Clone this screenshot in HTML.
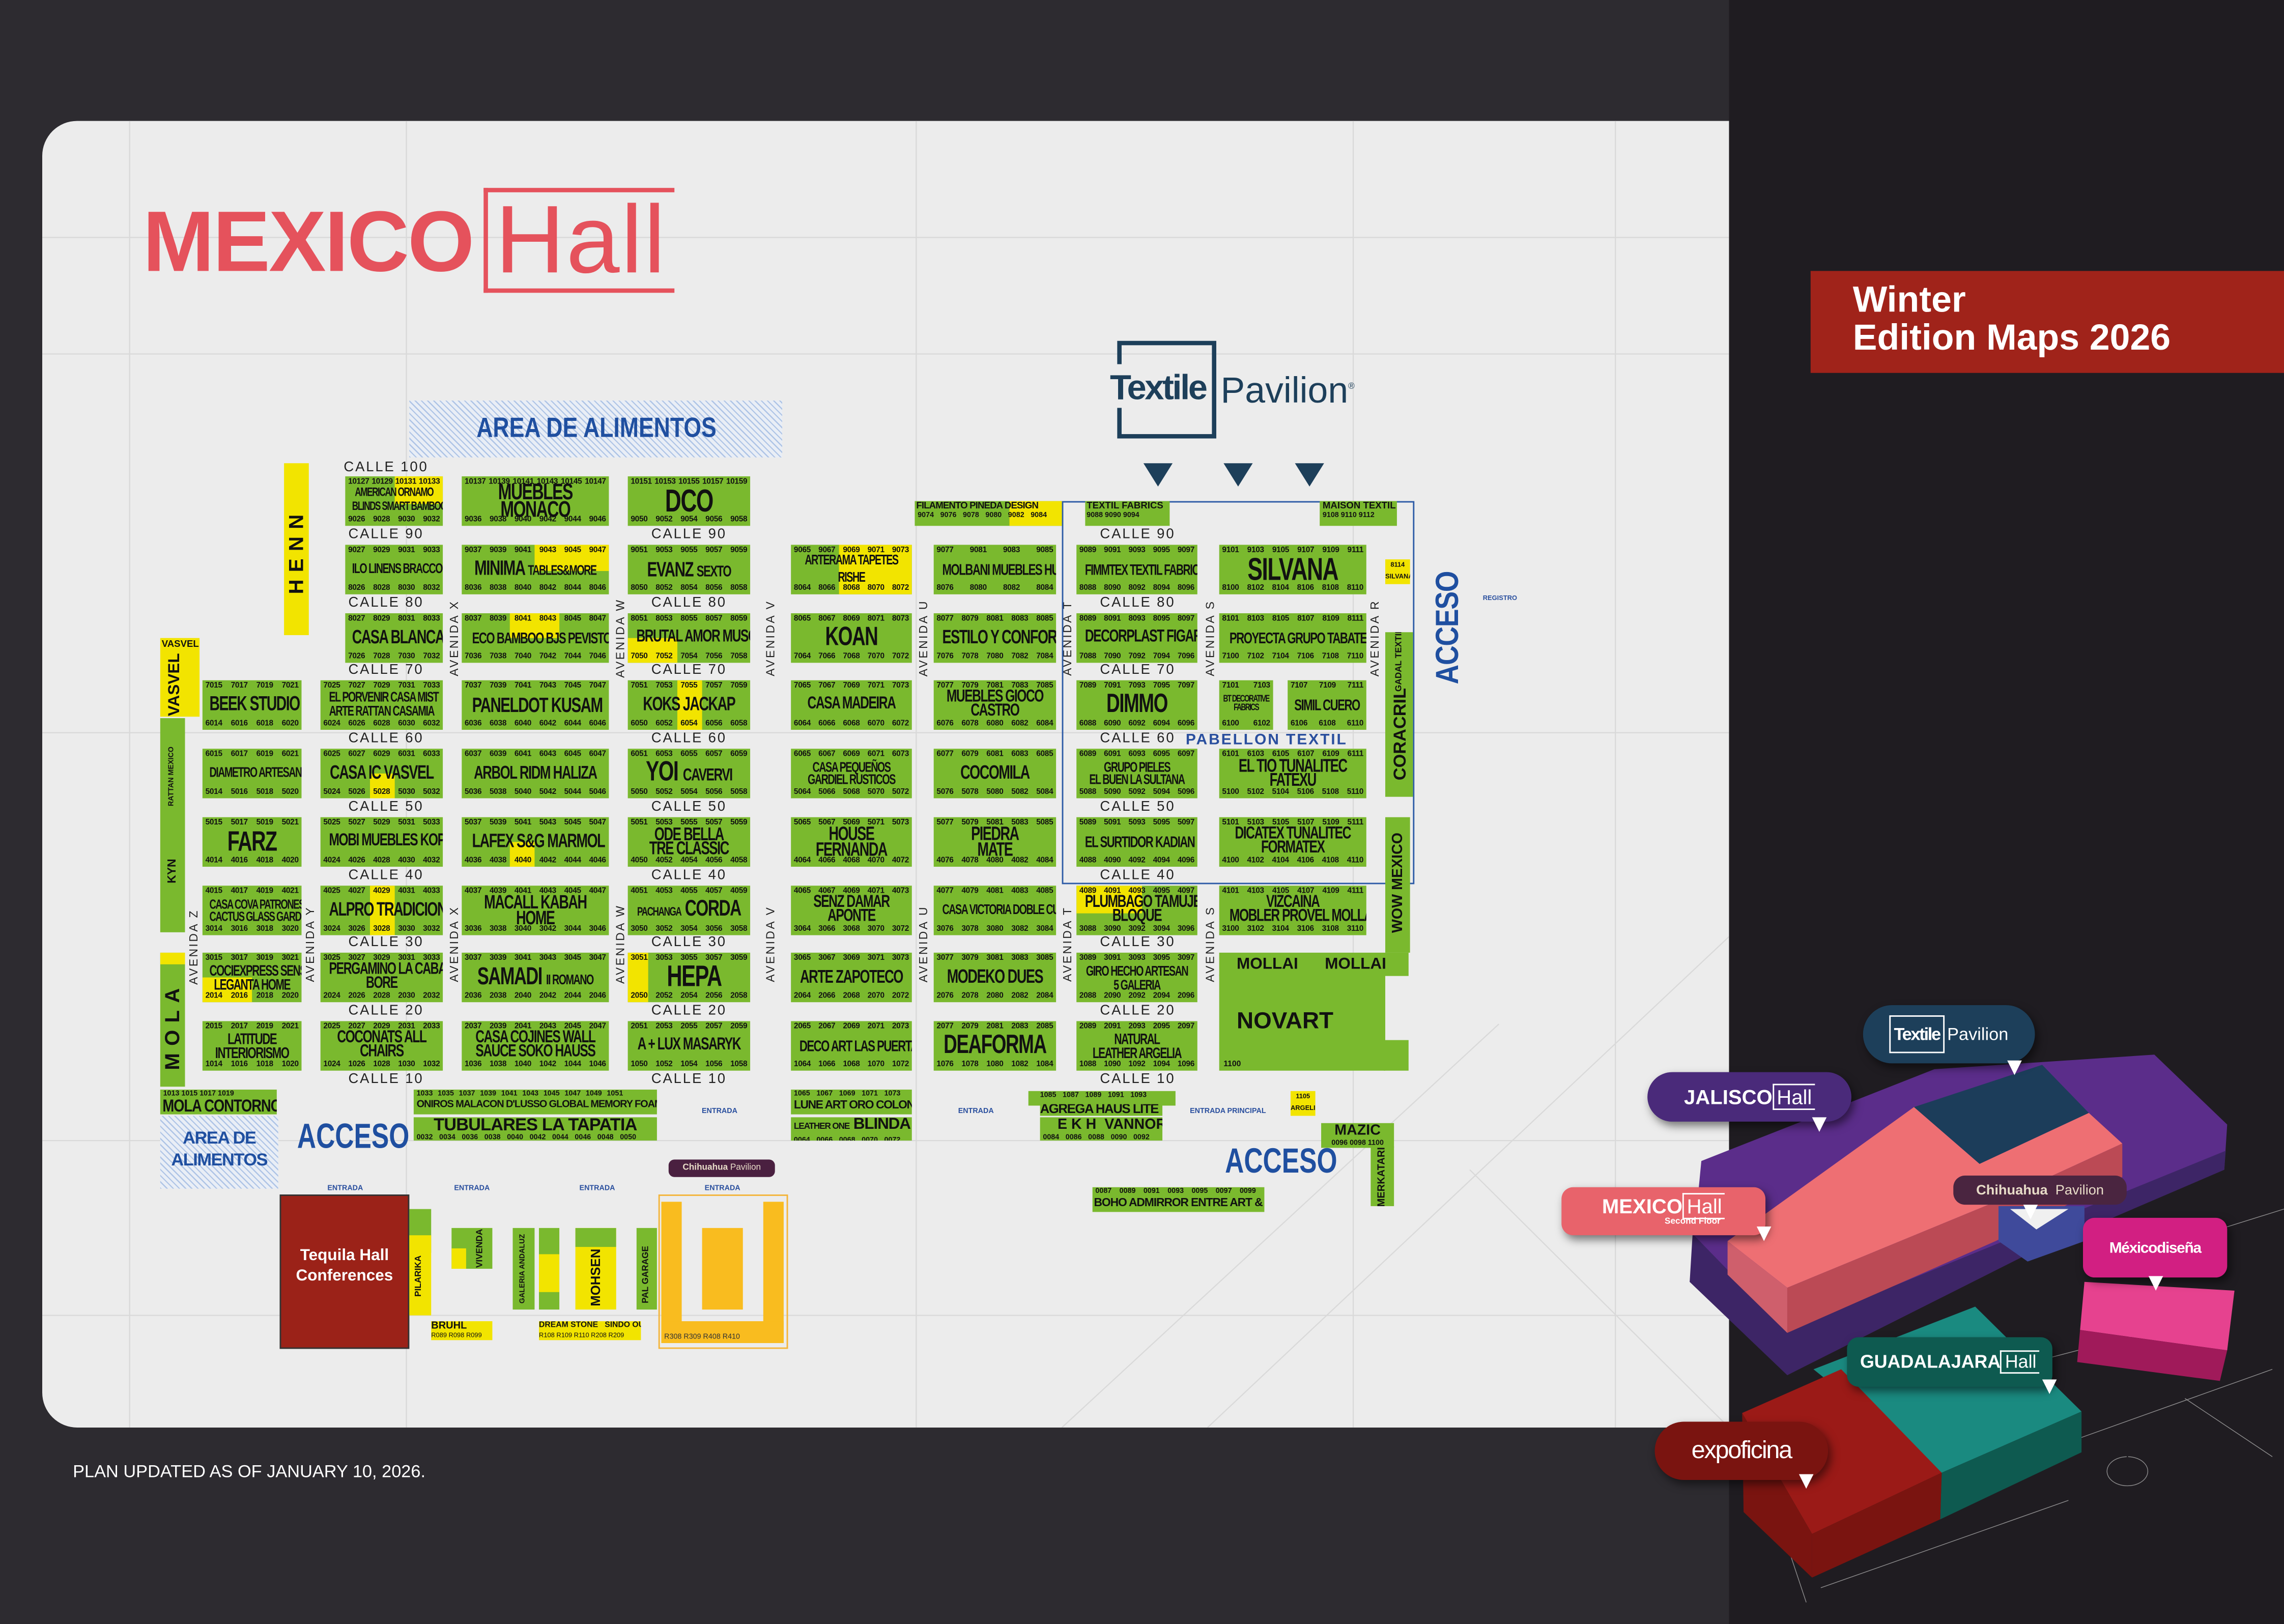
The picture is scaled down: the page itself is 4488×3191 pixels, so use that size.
<!DOCTYPE html>
<html><head><meta charset="utf-8"><style>
*{margin:0;padding:0;box-sizing:border-box}
html,body{width:4488px;height:3189px;overflow:hidden;background:#2c2a2f}
#s{position:absolute;left:0;top:0;width:1568px;height:1114.2px;transform:scale(2.86224);transform-origin:0 0;font-family:"Liberation Sans",sans-serif;background:#2d2b30}
.a{position:absolute}
.b{position:absolute;height:34px;background:#7ab92e;color:#111;font-weight:bold;overflow:hidden;display:flex;flex-direction:column;justify-content:space-between}
.b .n{position:relative;font-size:5.4px;line-height:6px;padding:1px 2px 0;text-align:justify;text-align-last:justify;white-space:nowrap;letter-spacing:-0.1px}
.b .n+.m+.n{padding:0 2px 1px}
.b .m{position:relative;font-size:11px;line-height:10px;text-align:center;white-space:nowrap;letter-spacing:-0.6px;transform:scale(.86,1.2)}
.y{position:absolute;background:#f2e400}
.c{position:absolute;font-size:9.6px;letter-spacing:1px;color:#222;transform:translate(-50%,-50%);white-space:nowrap}
.v{position:absolute;font-size:8px;letter-spacing:1.2px;color:#222;transform:translate(-50%,-50%) rotate(-90deg);white-space:nowrap}
.g{position:absolute;background:#7ab92e;overflow:hidden;font-weight:bold;color:#111;white-space:nowrap}
.yl{position:absolute;background:#f2e400;overflow:hidden;font-weight:bold;color:#111;white-space:nowrap}
.en{position:absolute;font-size:5px;font-weight:bold;color:#2a4f9e;transform:translate(-50%,-50%);white-space:nowrap}
.tri{position:absolute;width:0;height:0;border-left:10px solid transparent;border-right:10px solid transparent;border-top:16px solid #1d3f5a}
.wt{position:absolute;width:0;height:0;border-left:5px solid transparent;border-right:5px solid transparent;border-top:10px solid #fff}
.pill{position:absolute;color:#fff;font-weight:bold;display:flex;align-items:center;justify-content:center;white-space:nowrap;box-shadow:2px 3px 6px rgba(0,0,0,.5)}
.hatch{background:repeating-linear-gradient(45deg,#aec4e6 0 0.8px,#e9eef6 0.8px 3px)}
.rt{position:absolute;transform:translate(-50%,-50%) rotate(-90deg);white-space:nowrap;font-weight:bold}
</style></head><body><div id="s">

<div class="a" style="left:1187px;top:0;width:381px;height:1115px;background:#1f1c21"></div>
<div class="a" style="left:29px;top:83px;width:1158px;height:897px;background:#ececec;border-radius:24px 0 0 24px"></div>
<svg class="a" style="left:29px;top:83px" width="1158" height="897" viewBox="0 0 1158 897">
<g stroke="#d9d9d9" stroke-width="0.8" fill="none">
<path d="M0 80H1158M0 160H1158M0 420H1158M0 700H1158M0 820H1158M60 0V897M250 0V897M600 0V897M900 0V897M1080 0V897"/>
<path d="M700 897L1000 620M800 897L1158 560M980 720L1158 897"/>
</g></svg>

<div class="a" style="left:98px;top:131px;font-size:59px;font-weight:bold;color:#e5525c;letter-spacing:-1px;line-height:70px">MEXICO</div>
<div class="a" style="left:332px;top:128.5px;width:131px;height:72px;border:3.5px solid #e5525c;border-right:none"></div>
<div class="a" style="left:340px;top:124px;font-size:66px;color:#e5525c;line-height:80px;letter-spacing:1px">Hall</div>

<div class="a" style="left:767px;top:234px;width:68px;height:67px;border:3.7px solid #1d3f5a"></div>
<div class="a" style="left:760px;top:250px;width:12px;height:30px;background:#ececec"></div>
<div class="a" style="left:762px;top:253px;font-size:24px;font-weight:bold;color:#1d3f5a;letter-spacing:-1.2px;line-height:28px">Textile</div>
<div class="a" style="left:838px;top:252px;font-size:25px;color:#1d3f5a;line-height:28px">Pavilion<sup style="font-size:6px">®</sup></div>
<div class="tri" style="left:785px;top:318px"></div>
<div class="tri" style="left:840px;top:318px"></div>
<div class="tri" style="left:889px;top:318px"></div>

<div class="a hatch" style="left:281px;top:275px;width:256px;height:39px"></div>
<div class="a" style="left:281px;top:284px;width:256px;text-align:center;font-size:19px;font-weight:bold;color:#1f4fa0;line-height:22px"><span style="display:inline-block;transform:scaleX(.82)">AREA DE ALIMENTOS</span></div>

<div class="a" style="left:1243px;top:186px;width:325px;height:70px;background:#a0231a"></div>
<div class="a" style="left:1272px;top:193px;font-size:25px;font-weight:bold;color:#fff;line-height:26px">Winter<br>Edition Maps 2026</div>

<div class="a" style="left:50px;top:1003px;font-size:12px;color:#fff;line-height:14px">PLAN UPDATED AS OF JANUARY 10, 2026.</div>

<div class="c" style="left:265px;top:321px">CALLE 100</div>
<div class="c" style="left:265px;top:367px">CALLE 90</div><div class="c" style="left:473px;top:367px">CALLE 90</div><div class="c" style="left:781px;top:367px">CALLE 90</div>
<div class="c" style="left:265px;top:414px">CALLE 80</div><div class="c" style="left:473px;top:414px">CALLE 80</div><div class="c" style="left:781px;top:414px">CALLE 80</div>
<div class="c" style="left:265px;top:460px">CALLE 70</div><div class="c" style="left:473px;top:460px">CALLE 70</div><div class="c" style="left:781px;top:460px">CALLE 70</div>
<div class="c" style="left:265px;top:507px">CALLE 60</div><div class="c" style="left:473px;top:507px">CALLE 60</div><div class="c" style="left:781px;top:507px">CALLE 60</div>
<div class="c" style="left:265px;top:554px">CALLE 50</div><div class="c" style="left:473px;top:554px">CALLE 50</div><div class="c" style="left:781px;top:554px">CALLE 50</div>
<div class="c" style="left:265px;top:601px">CALLE 40</div><div class="c" style="left:473px;top:601px">CALLE 40</div><div class="c" style="left:781px;top:601px">CALLE 40</div>
<div class="c" style="left:265px;top:647px">CALLE 30</div><div class="c" style="left:473px;top:647px">CALLE 30</div><div class="c" style="left:781px;top:647px">CALLE 30</div>
<div class="c" style="left:265px;top:694px">CALLE 20</div><div class="c" style="left:473px;top:694px">CALLE 20</div><div class="c" style="left:781px;top:694px">CALLE 20</div>
<div class="c" style="left:265px;top:741px">CALLE 10</div><div class="c" style="left:473px;top:741px">CALLE 10</div><div class="c" style="left:781px;top:741px">CALLE 10</div>

<div class="v" style="left:312px;top:438px">AVENIDA X</div><div class="v" style="left:426px;top:438px">AVENIDA W</div><div class="v" style="left:529px;top:438px">AVENIDA V</div><div class="v" style="left:634px;top:438px">AVENIDA U</div><div class="v" style="left:733px;top:438px">AVENIDA T</div><div class="v" style="left:831px;top:438px">AVENIDA S</div><div class="v" style="left:944px;top:438px">AVENIDA R</div>
<div class="v" style="left:133px;top:650px">AVENIDA Z</div><div class="v" style="left:213px;top:648px">AVENIDA Y</div><div class="v" style="left:312px;top:648px">AVENIDA X</div><div class="v" style="left:426px;top:648px">AVENIDA W</div><div class="v" style="left:529px;top:648px">AVENIDA V</div><div class="v" style="left:634px;top:648px">AVENIDA U</div><div class="v" style="left:733px;top:648px">AVENIDA T</div><div class="v" style="left:831px;top:648px">AVENIDA S</div>

<div class="a" style="left:729px;top:344px;width:242px;height:263px;border:1.5px solid #2d5ba6"></div>
<div class="a" style="left:814px;top:502px;font-size:10.5px;font-weight:bold;color:#2a4f9e;letter-spacing:1px;line-height:12px">PABELLON TEXTIL</div>

<!-- ROW 100 -->
<div class="b" style="left:237px;top:327px;width:67px"><div class="y" style="left:34px;top:0;width:33px;height:19px"></div><div class="n">10127 10129 10131 10133</div><div class="m" style="font-size:7px;line-height:8px">AMERICAN ORNAMO<br>BLINDS SMART BAMBOO</div><div class="n">9026 9028 9030 9032</div></div>
<div class="b" style="left:317px;top:327px;width:101px"><div class="n">10137 10139 10141 10143 10145 10147</div><div class="m" style="font-size:13px;line-height:10px">MUEBLES<br>MONACO</div><div class="n">9036 9038 9040 9042 9044 9046</div></div>
<div class="b" style="left:431px;top:327px;width:84px"><div class="n">10151 10153 10155 10157 10159</div><div class="m" style="font-size:18px;line-height:15px">DCO</div><div class="n">9050 9052 9054 9056 9058</div></div>

<!-- ROW 90 -->
<div class="b" style="left:237px;top:374px;width:67px"><div class="n">9027 9029 9031 9033</div><div class="m" style="font-size:8px">ILO LINENS BRACCO</div><div class="n">8026 8028 8030 8032</div></div>
<div class="b" style="left:317px;top:374px;width:101px"><div class="y" style="left:50px;top:0;width:51px;height:18px"></div><div class="n">9037 9039 9041 9043 9045 9047</div><div class="m" style="font-size:12px">MINIMA <span style="font-size:8px">TABLES&amp;MORE</span></div><div class="n">8036 8038 8040 8042 8044 8046</div></div>
<div class="b" style="left:431px;top:374px;width:84px"><div class="n">9051 9053 9055 9057 9059</div><div class="m" style="font-size:12px">EVANZ <span style="font-size:9px">SEXTO</span></div><div class="n">8050 8052 8054 8056 8058</div></div>
<div class="b" style="left:543px;top:374px;width:83px"><div class="y" style="left:33px;top:0;width:50px;height:34px"></div><div class="n">9065 9067 9069 9071 9073</div><div class="m" style="font-size:8px">ARTERAMA TAPETES<br>RISHE</div><div class="n">8064 8066 8068 8070 8072</div></div>
<div class="b" style="left:641px;top:374px;width:84px"><div class="n">9077 9081 9083 9085</div><div class="m" style="font-size:9px">MOLBANI MUEBLES HUIZAR</div><div class="n">8076 8080 8082 8084</div></div>
<div class="b" style="left:739px;top:374px;width:83px"><div class="n">9089 9091 9093 9095 9097</div><div class="m" style="font-size:8.5px">FIMMTEX TEXTIL FABRICS</div><div class="n">8088 8090 8092 8094 8096</div></div>
<div class="b" style="left:837px;top:374px;width:101px"><div class="n">9101 9103 9105 9107 9109 9111</div><div class="m" style="font-size:18px;line-height:14px">SILVANA</div><div class="n">8100 8102 8104 8106 8108 8110</div></div>

<!-- ROW 80 -->
<div class="b" style="left:237px;top:421px;width:67px"><div class="n">8027 8029 8031 8033</div><div class="m" style="font-size:11px">CASA BLANCA</div><div class="n">7026 7028 7030 7032</div></div>
<div class="b" style="left:317px;top:421px;width:101px"><div class="y" style="left:33px;top:0;width:34px;height:17px"></div><div class="n">8037 8039 8041 8043 8045 8047</div><div class="m" style="font-size:9px">ECO BAMBOO BJS PEVISTONE</div><div class="n">7036 7038 7040 7042 7044 7046</div></div>
<div class="b" style="left:431px;top:421px;width:84px"><div class="y" style="left:0;top:17px;width:34px;height:17px"></div><div class="n">8051 8053 8055 8057 8059</div><div class="m" style="font-size:10px">BRUTAL AMOR MUSOL</div><div class="n">7050 7052 7054 7056 7058</div></div>
<div class="b" style="left:543px;top:421px;width:83px"><div class="n">8065 8067 8069 8071 8073</div><div class="m" style="font-size:15px">KOAN</div><div class="n">7064 7066 7068 7070 7072</div></div>
<div class="b" style="left:641px;top:421px;width:84px"><div class="n">8077 8079 8081 8083 8085</div><div class="m" style="font-size:11px">ESTILO Y CONFORT</div><div class="n">7076 7078 7080 7082 7084</div></div>
<div class="b" style="left:739px;top:421px;width:83px"><div class="n">8089 8091 8093 8095 8097</div><div class="m" style="font-size:10px">DECORPLAST FIGAR</div><div class="n">7088 7090 7092 7094 7096</div></div>
<div class="b" style="left:837px;top:421px;width:101px"><div class="n">8101 8103 8105 8107 8109 8111</div><div class="m" style="font-size:9px">PROYECTA GRUPO TABATEX</div><div class="n">7100 7102 7104 7106 7108 7110</div></div>

<!-- ROW 70 -->
<div class="b" style="left:139px;top:467px;width:68px"><div class="n">7015 7017 7019 7021</div><div class="m" style="font-size:11.5px">BEEK STUDIO</div><div class="n">6014 6016 6018 6020</div></div>
<div class="b" style="left:220px;top:467px;width:84px"><div class="n">7025 7027 7029 7031 7033</div><div class="m" style="font-size:8px;line-height:8px">EL PORVENIR CASA MIST<br>ARTE RATTAN CASAMIA</div><div class="n">6024 6026 6028 6030 6032</div></div>
<div class="b" style="left:317px;top:467px;width:101px"><div class="n">7037 7039 7041 7043 7045 7047</div><div class="m" style="font-size:12px">PANELDOT KUSAM</div><div class="n">6036 6038 6040 6042 6044 6046</div></div>
<div class="b" style="left:431px;top:467px;width:84px"><div class="y" style="left:34px;top:0;width:17px;height:34px"></div><div class="n">7051 7053 7055 7057 7059</div><div class="m" style="font-size:11px">KOKS JACKAP</div><div class="n">6050 6052 6054 6056 6058</div></div>
<div class="b" style="left:543px;top:467px;width:83px"><div class="n">7065 7067 7069 7071 7073</div><div class="m" style="font-size:10px">CASA MADEIRA</div><div class="n">6064 6066 6068 6070 6072</div></div>
<div class="b" style="left:641px;top:467px;width:84px"><div class="n">7077 7079 7081 7083 7085</div><div class="m" style="font-size:10px;line-height:8px">MUEBLES GIOCO<br>CASTRO</div><div class="n">6076 6078 6080 6082 6084</div></div>
<div class="b" style="left:739px;top:467px;width:83px"><div class="n">7089 7091 7093 7095 7097</div><div class="m" style="font-size:15px">DIMMO</div><div class="n">6088 6090 6092 6094 6096</div></div>
<div class="b" style="left:837px;top:467px;width:37px"><div class="n">7101 7103</div><div class="m" style="font-size:5.5px;line-height:5px">BT DECORATIVE<br>FABRICS</div><div class="n">6100 6102</div></div>
<div class="b" style="left:884px;top:467px;width:54px"><div class="n">7107 7109 7111</div><div class="m" style="font-size:9px">SIMIL CUERO</div><div class="n">6106 6108 6110</div></div>

<!-- ROW 60 -->
<div class="b" style="left:139px;top:514px;width:68px"><div class="n">6015 6017 6019 6021</div><div class="m" style="font-size:8px">DIAMETRO ARTESANOZ</div><div class="n">5014 5016 5018 5020</div></div>
<div class="b" style="left:220px;top:514px;width:84px"><div class="y" style="left:34px;top:17px;width:17px;height:17px"></div><div class="n">6025 6027 6029 6031 6033</div><div class="m" style="font-size:11px">CASA IC VASVEL</div><div class="n">5024 5026 5028 5030 5032</div></div>
<div class="b" style="left:317px;top:514px;width:101px"><div class="n">6037 6039 6041 6043 6045 6047</div><div class="m" style="font-size:10.5px">ARBOL RIDM HALIZA</div><div class="n">5036 5038 5040 5042 5044 5046</div></div>
<div class="b" style="left:431px;top:514px;width:84px"><div class="n">6051 6053 6055 6057 6059</div><div class="m" style="font-size:16px;line-height:13px">YOI <span style="font-size:10px">CAVERVI</span></div><div class="n">5050 5052 5054 5056 5058</div></div>
<div class="b" style="left:543px;top:514px;width:83px"><div class="n">6065 6067 6069 6071 6073</div><div class="m" style="font-size:8px;line-height:7px">CASA PEQUEÑOS<br>GARDIEL RUSTICOS</div><div class="n">5064 5066 5068 5070 5072</div></div>
<div class="b" style="left:641px;top:514px;width:84px"><div class="n">6077 6079 6081 6083 6085</div><div class="m" style="font-size:11px">COCOMILA</div><div class="n">5076 5078 5080 5082 5084</div></div>
<div class="b" style="left:739px;top:514px;width:83px"><div class="n">6089 6091 6093 6095 6097</div><div class="m" style="font-size:8px;line-height:7px">GRUPO PIELES<br>EL BUEN LA SULTANA</div><div class="n">5088 5090 5092 5094 5096</div></div>
<div class="b" style="left:837px;top:514px;width:101px"><div class="n">6101 6103 6105 6107 6109 6111</div><div class="m" style="font-size:10.5px;line-height:8px">EL TIO TUNALITEC<br>FATEXU</div><div class="n">5100 5102 5104 5106 5108 5110</div></div>

<!-- ROW 50 -->
<div class="b" style="left:139px;top:561px;width:68px"><div class="n">5015 5017 5019 5021</div><div class="m" style="font-size:16px;line-height:13px">FARZ</div><div class="n">4014 4016 4018 4020</div></div>
<div class="b" style="left:220px;top:561px;width:84px"><div class="n">5025 5027 5029 5031 5033</div><div class="m" style="font-size:10px">MOBI MUEBLES KOPAL</div><div class="n">4024 4026 4028 4030 4032</div></div>
<div class="b" style="left:317px;top:561px;width:101px"><div class="y" style="left:33px;top:17px;width:17px;height:17px"></div><div class="n">5037 5039 5041 5043 5045 5047</div><div class="m" style="font-size:11px">LAFEX S&amp;G MARMOL</div><div class="n">4036 4038 4040 4042 4044 4046</div></div>
<div class="b" style="left:431px;top:561px;width:84px"><div class="n">5051 5053 5055 5057 5059</div><div class="m" style="font-size:10.5px;line-height:8px">ODE BELLA<br>TRE CLASSIC</div><div class="n">4050 4052 4054 4056 4058</div></div>
<div class="b" style="left:543px;top:561px;width:83px"><div class="n">5065 5067 5069 5071 5073</div><div class="m" style="font-size:11px;line-height:8.5px">HOUSE<br>FERNANDA</div><div class="n">4064 4066 4068 4070 4072</div></div>
<div class="b" style="left:641px;top:561px;width:84px"><div class="n">5077 5079 5081 5083 5085</div><div class="m" style="font-size:11px;line-height:8.5px">PIEDRA<br>MATE</div><div class="n">4076 4078 4080 4082 4084</div></div>
<div class="b" style="left:739px;top:561px;width:83px"><div class="n">5089 5091 5093 5095 5097</div><div class="m" style="font-size:9px">EL SURTIDOR KADIAN</div><div class="n">4088 4090 4092 4094 4096</div></div>
<div class="b" style="left:837px;top:561px;width:101px"><div class="n">5101 5103 5105 5107 5109 5111</div><div class="m" style="font-size:10px;line-height:8px">DICATEX TUNALITEC<br>FORMATEX</div><div class="n">4100 4102 4104 4106 4108 4110</div></div>

<!-- ROW 40 -->
<div class="b" style="left:139px;top:608px;width:68px"><div class="n">4015 4017 4019 4021</div><div class="m" style="font-size:7.5px;line-height:7px">CASA COVA PATRONES<br>CACTUS GLASS GARDEN</div><div class="n">3014 3016 3018 3020</div></div>
<div class="b" style="left:220px;top:608px;width:84px"><div class="y" style="left:34px;top:0;width:17px;height:34px"></div><div class="n">4025 4027 4029 4031 4033</div><div class="m" style="font-size:11px">ALPRO TRADICIONES</div><div class="n">3024 3026 3028 3030 3032</div></div>
<div class="b" style="left:317px;top:608px;width:101px"><div class="n">4037 4039 4041 4043 4045 4047</div><div class="m" style="font-size:11px;line-height:8.5px">MACALL KABAH<br>HOME</div><div class="n">3036 3038 3040 3042 3044 3046</div></div>
<div class="b" style="left:431px;top:608px;width:84px"><div class="n">4051 4053 4055 4057 4059</div><div class="m" style="font-size:13px"><span style="font-size:7px">PACHANGA</span> CORDA</div><div class="n">3050 3052 3054 3056 3058</div></div>
<div class="b" style="left:543px;top:608px;width:83px"><div class="n">4065 4067 4069 4071 4073</div><div class="m" style="font-size:10px;line-height:8px">SENZ DAMAR<br>APONTE</div><div class="n">3064 3066 3068 3070 3072</div></div>
<div class="b" style="left:641px;top:608px;width:84px"><div class="n">4077 4079 4081 4083 4085</div><div class="m" style="font-size:8px">CASA VICTORIA DOBLE CUADRO</div><div class="n">3076 3078 3080 3082 3084</div></div>
<div class="b" style="left:739px;top:608px;width:83px"><div class="y" style="left:0;top:0;width:45px;height:19px"></div><div class="n">4089 4091 4093 4095 4097</div><div class="m" style="font-size:10px;line-height:8px">PLUMBAGO TAMUJE<br>BLOQUE</div><div class="n">3088 3090 3092 3094 3096</div></div>
<div class="b" style="left:837px;top:608px;width:101px"><div class="n">4101 4103 4105 4107 4109 4111</div><div class="m" style="font-size:10px;line-height:8px">VIZCAINA<br>MOBLER PROVEL MOLLAI</div><div class="n">3100 3102 3104 3106 3108 3110</div></div>

<!-- ROW 30 -->
<div class="b" style="left:139px;top:654px;width:68px"><div class="y" style="left:0;top:17px;width:34px;height:17px"></div><div class="n">3015 3017 3019 3021</div><div class="m" style="font-size:8.5px;line-height:7.5px">COCIEXPRESS SENSI<br>LEGANTA HOME</div><div class="n">2014 2016 2018 2020</div></div>
<div class="b" style="left:220px;top:654px;width:84px"><div class="n">3025 3027 3029 3031 3033</div><div class="m" style="font-size:9.5px;line-height:8px">PERGAMINO LA CABAÑA<br>BORE</div><div class="n">2024 2026 2028 2030 2032</div></div>
<div class="b" style="left:317px;top:654px;width:101px"><div class="n">3037 3039 3041 3043 3045 3047</div><div class="m" style="font-size:14px">SAMADI <span style="font-size:8px">II ROMANO</span></div><div class="n">2036 2038 2040 2042 2044 2046</div></div>
<div class="b" style="left:431px;top:654px;width:84px"><div class="y" style="left:0;top:0;width:14px;height:34px"></div><div class="n">3051 3053 3055 3057 3059</div><div class="m" style="font-size:17px;line-height:14px">&nbsp; HEPA</div><div class="n">2050 2052 2054 2056 2058</div></div>
<div class="b" style="left:543px;top:654px;width:83px"><div class="n">3065 3067 3069 3071 3073</div><div class="m" style="font-size:10.5px">ARTE ZAPOTECO</div><div class="n">2064 2066 2068 2070 2072</div></div>
<div class="b" style="left:641px;top:654px;width:84px"><div class="n">3077 3079 3081 3083 3085</div><div class="m" style="font-size:11px">MODEKO DUES</div><div class="n">2076 2078 2080 2082 2084</div></div>
<div class="b" style="left:739px;top:654px;width:83px"><div class="n">3089 3091 3093 3095 3097</div><div class="m" style="font-size:8px;line-height:7.5px">GIRO HECHO ARTESAN<br>5 GALERIA</div><div class="n">2088 2090 2092 2094 2096</div></div>

<!-- ROW 20 -->
<div class="b" style="left:139px;top:701px;width:68px"><div class="n">2015 2017 2019 2021</div><div class="m" style="font-size:9px;line-height:8px">LATITUDE<br>INTERIORISMO</div><div class="n">1014 1016 1018 1020</div></div>
<div class="b" style="left:220px;top:701px;width:84px"><div class="n">2025 2027 2029 2031 2033</div><div class="m" style="font-size:10px;line-height:8px">COCONATS ALL<br>CHAIRS</div><div class="n">1024 1026 1028 1030 1032</div></div>
<div class="b" style="left:317px;top:701px;width:101px"><div class="n">2037 2039 2041 2043 2045 2047</div><div class="m" style="font-size:10px;line-height:8px">CASA COJINES WALL<br>SAUCE SOKO HAUSS</div><div class="n">1036 1038 1040 1042 1044 1046</div></div>
<div class="b" style="left:431px;top:701px;width:84px"><div class="n">2051 2053 2055 2057 2059</div><div class="m" style="font-size:10px">A + LUX MASARYK</div><div class="n">1050 1052 1054 1056 1058</div></div>
<div class="b" style="left:543px;top:701px;width:83px"><div class="n">2065 2067 2069 2071 2073</div><div class="m" style="font-size:9px">DECO ART LAS PUERTAS</div><div class="n">1064 1066 1068 1070 1072</div></div>
<div class="b" style="left:641px;top:701px;width:84px"><div class="n">2077 2079 2081 2083 2085</div><div class="m" style="font-size:15px">DEAFORMA</div><div class="n">1076 1078 1080 1082 1084</div></div>
<div class="b" style="left:739px;top:701px;width:83px"><div class="n">2089 2091 2093 2095 2097</div><div class="m" style="font-size:8.5px;line-height:7.5px">NATURAL<br>LEATHER ARGELIA</div><div class="n">1088 1090 1092 1094 1096</div></div>

<!-- NOVART -->
<div class="g" style="left:837px;top:654px;width:130px;height:16px;font-size:11px;line-height:17px;padding-left:12px">MOLLAI &nbsp;&nbsp;&nbsp;&nbsp; MOLLAI</div>
<div class="g" style="left:837px;top:669px;width:114px;height:66px"><div style="position:absolute;left:12px;top:24px;font-size:16px">NOVART</div><div style="position:absolute;left:3px;bottom:1px;font-size:5.5px">1100</div></div>
<div class="g" style="left:950px;top:714px;width:17px;height:21px"></div>

<div class="g" style="left:628px;top:344px;width:101px;height:17px"><div class="y" style="left:65px;top:0;width:36px;height:17px"></div><div style="position:relative;font-size:6.5px;letter-spacing:-0.3px;padding-left:1px">FILAMENTO PINEDA DESIGN</div><div style="position:relative;font-size:5px;padding-left:2px;word-spacing:3px">9074 9076 9078 9080 9082 9084</div></div>
<div class="g" style="left:745px;top:344px;width:58px;height:17px;font-size:6.5px;padding-left:1px">TEXTIL FABRICS<div style="font-size:5px">9088 9090 9094</div></div>
<div class="g" style="left:906px;top:344px;width:53px;height:17px;font-size:6.5px;padding-left:2px">MAISON TEXTIL<div style="font-size:5px">9108 9110 9112</div></div>
<div class="yl" style="left:951px;top:384px;width:17px;height:17px;font-size:4.5px;text-align:center;line-height:8px">8114<br>SILVANA</div>
<div class="g" style="left:951px;top:434px;width:19px;height:113px"><div class="rt" style="left:10px;top:70px;font-size:12px">CORACRIL</div><div class="rt" style="left:10px;top:17px;font-size:6px">GADAL TEXTILE</div></div>
<div class="g" style="left:951px;top:561px;width:17px;height:93px"><div class="rt" style="left:9px;top:45px;font-size:10px">WOW MEXICO</div></div>

<div class="rt" style="left:994px;top:431px;font-size:22px;color:#1f4fa0;letter-spacing:-0.5px"><span style="display:inline-block;transform:scaleX(.85)">ACCESO</span></div>
<div class="a" style="left:1018px;top:408px;font-size:4.5px;font-weight:bold;color:#2a4f9e">REGISTRO</div>

<div class="yl" style="left:195px;top:318px;width:17px;height:118px"><div class="rt" style="left:8px;top:60px;font-size:14px;letter-spacing:5px">HENN</div></div>
<div class="yl" style="left:110px;top:438px;width:27px;height:54px"><div style="font-size:6.5px;padding:1px">VASVEL</div><div class="rt" style="left:10px;top:32px;font-size:11px">VASVEL</div></div>
<div class="g" style="left:110px;top:493px;width:17px;height:147px"><div class="rt" style="left:8px;top:40px;font-size:5px">RATTAN MEXICO</div><div class="rt" style="left:8px;top:105px;font-size:8px">KYN</div></div>
<div class="g" style="left:110px;top:654px;width:17px;height:92px"><div class="yl" style="left:0;top:0;width:17px;height:8px"></div><div class="rt" style="left:8px;top:50px;font-size:14px;letter-spacing:5px">MOLA</div></div>

<!-- row 10 -->
<div class="g" style="left:110px;top:748px;width:80px;height:17px"><div style="font-size:5px;padding-left:2px">1013 1015 1017 1019</div><div style="font-size:12px;line-height:10px;padding-left:2px;letter-spacing:-0.5px;transform:scaleX(.8);transform-origin:0 0">MOLA CONTORNO</div></div>
<div class="g" style="left:284px;top:748px;width:167px;height:17px"><div style="font-size:5px;padding-left:2px;word-spacing:2px">1033 1035 1037 1039 1041 1043 1045 1047 1049 1051</div><div style="font-size:7px;line-height:10px;padding-left:2px;letter-spacing:-0.4px">ONIROS MALACON D'LUSSO GLOBAL MEMORY FOAM</div></div>
<div class="g" style="left:284px;top:767px;width:167px;height:16px"><div style="font-size:12px;line-height:11px;text-align:center;letter-spacing:-0.3px">TUBULARES LA TAPATIA</div><div style="font-size:5px;padding-left:2px;word-spacing:3px">0032 0034 0036 0038 0040 0042 0044 0046 0048 0050</div></div>
<div class="g" style="left:543px;top:748px;width:83px;height:17px"><div style="font-size:5px;padding-left:2px;word-spacing:3px">1065 1067 1069 1071 1073</div><div style="font-size:8px;line-height:10px;padding-left:2px;letter-spacing:-0.5px">LUNE ART ORO COLONIAL</div></div>
<div class="g" style="left:543px;top:767px;width:83px;height:16px"><div style="font-size:11px;line-height:11px;padding-left:2px;letter-spacing:-0.4px"><span style="font-size:6px">LEATHER ONE</span> BLINDA</div><div style="font-size:5px;padding-left:2px;word-spacing:3px">0064 0066 0068 0070 0072</div></div>
<div class="g" style="left:706px;top:749px;width:101px;height:10px;font-size:5px;padding-left:8px;word-spacing:3px">1085 1087 1089 1091 1093</div>
<div class="g" style="left:714px;top:758px;width:84px;height:8px;font-size:9px;line-height:6px;letter-spacing:-0.5px">AGREGA HAUS LITE</div>
<div class="g" style="left:714px;top:767px;width:84px;height:16px"><div style="font-size:10px;line-height:11px;padding-left:12px">E K H &nbsp;VANNOR</div><div style="font-size:5px;padding-left:2px;word-spacing:3px">0084 0086 0088 0090 0092</div></div>
<div class="yl" style="left:886px;top:749px;width:17px;height:17px;font-size:4.5px;text-align:center;line-height:8px">1105<br>ARGELIA</div>
<div class="g" style="left:907px;top:771px;width:50px;height:17px"><div style="font-size:10px;line-height:11px;text-align:center">MAZIC</div><div style="font-size:5px;text-align:center">0096 0098 1100</div></div>
<div class="g" style="left:941px;top:787px;width:16px;height:41px"><div class="rt" style="left:8px;top:21px;font-size:7px">MERKATARI</div></div>
<div class="g" style="left:750px;top:815px;width:118px;height:17px"><div style="font-size:5px;padding-left:2px;word-spacing:4px">0087 0089 0091 0093 0095 0097 0099</div><div style="font-size:8px;line-height:10px;padding-left:1px;letter-spacing:-0.4px">BOHO ADMIRROR ENTRE ART &amp; DESIGN</div></div>

<div class="en" style="left:670px;top:763px">ENTRADA</div>
<div class="en" style="left:843px;top:763px">ENTRADA PRINCIPAL</div>
<div class="en" style="left:494px;top:763px">ENTRADA</div>
<div class="en" style="left:237px;top:816px">ENTRADA</div><div class="en" style="left:324px;top:816px">ENTRADA</div><div class="en" style="left:410px;top:816px">ENTRADA</div><div class="en" style="left:496px;top:816px">ENTRADA</div>

<div class="a hatch" style="left:110px;top:766px;width:81px;height:50px"></div>
<div class="a" style="left:110px;top:774px;width:81px;text-align:center;font-size:12px;font-weight:bold;color:#1f4fa0;line-height:15px;letter-spacing:-0.5px">AREA DE<br>ALIMENTOS</div>
<div class="a" style="left:204px;top:766px;font-size:24px;font-weight:bold;color:#1f4fa0;line-height:30px"><span style="display:inline-block;transform:scaleX(.75);transform-origin:0 0">ACCESO</span></div>
<div class="a" style="left:841px;top:783px;font-size:24px;font-weight:bold;color:#1f4fa0;line-height:30px"><span style="display:inline-block;transform:scaleX(.75);transform-origin:0 0">ACCESO</span></div>

<div class="a" style="left:459px;top:796px;width:73px;height:12px;border-radius:4px;background:#4a2040;color:#e8dcc8;font-size:6px;line-height:12px;text-align:center;font-weight:bold">Chihuahua <span style="font-weight:normal">Pavilion</span></div>

<div class="a" style="left:192px;top:820px;width:89px;height:106px;background:#9b2218;border:1px solid #333"></div>
<div class="a" style="left:192px;top:855px;width:89px;text-align:center;color:#fff;font-weight:bold;font-size:11px;line-height:14px">Tequila Hall<br>Conferences</div>

<div class="g" style="left:281px;top:830px;width:15px;height:30px"></div>
<div class="yl" style="left:281px;top:848px;width:15px;height:55px"><div class="rt" style="left:7px;top:28px;font-size:6px">PILARIKA</div></div>
<div class="g" style="left:310px;top:843px;width:28px;height:28px"><div class="yl" style="left:0;top:14px;width:10px;height:14px"></div><div class="rt" style="left:20px;top:14px;font-size:6px">VIVENDA</div></div>
<div class="g" style="left:352px;top:843px;width:15px;height:56px"><div class="rt" style="left:7px;top:28px;font-size:5px">GALERIA ANDALUZ</div></div>
<div class="g" style="left:370px;top:843px;width:14px;height:56px"><div class="yl" style="left:0;top:18px;width:14px;height:26px"></div></div>
<div class="yl" style="left:395px;top:843px;width:28px;height:56px"><div class="g" style="left:0;top:0;width:28px;height:13px"></div><div class="rt" style="left:14px;top:34px;font-size:9px">MOHSEN</div></div>
<div class="g" style="left:437px;top:843px;width:14px;height:56px"><div class="rt" style="left:7px;top:32px;font-size:6px">PAL GARAGE</div></div>
<div class="a" style="left:452px;top:820px;width:89px;height:106px;border:0.7px solid #f4b53a"></div>
<div class="a" style="left:454px;top:825px;width:14px;height:97px;background:#f9bc1f"></div>
<div class="a" style="left:482px;top:843px;width:28px;height:56px;background:#f9bc1f"></div>
<div class="a" style="left:524px;top:825px;width:14px;height:97px;background:#f9bc1f"></div>
<div class="a" style="left:454px;top:907px;width:84px;height:15px;background:#f9bc1f;font-size:5px;line-height:22px;padding-left:2px;color:#333">R308 R309 R408 R410</div>
<div class="yl" style="left:296px;top:907px;width:42px;height:13px"><div style="font-size:7px;line-height:7px">BRUHL</div><div style="font-size:4.5px;font-weight:normal">R089 R098 R099</div></div>
<div class="yl" style="left:370px;top:907px;width:70px;height:13px"><div style="font-size:5.5px;line-height:7px">DREAM STONE &nbsp; SINDO OUTDOOR</div><div style="font-size:4.5px;font-weight:normal">R108 R109 R110 R208 R209</div></div>

<svg class="a" style="left:1060px;top:680px" width="508" height="434" viewBox="1060 680 508 434">
<g stroke="#bbb" stroke-width="0.5" fill="none" opacity="0.7">
<path d="M1200 980L1240 1100M1300 960L1530 900M1440 870L1568 830M1420 990L1560 940M1460 1000a14 10 0 1 0 1 0M1250 1090L1420 1030M1500 960L1560 1000"/>
</g>
<polygon points="1168,797 1328,734 1479,724 1529,772 1527,803 1392,861 1227,944 1160,880" fill="#5b2d8a"/>
<polygon points="1162,847 1226,913 1528,790 1527,803 1392,861 1227,944 1160,880" fill="#3d2566"/>
<polygon points="1186,852 1314,760 1359,799 1434,764 1457,785 1370,825 1227,884" fill="#ee6f73"/>
<polygon points="1314,760 1402,731 1434,764 1359,799" fill="#1c3d5a"/>
<polygon points="1186,852 1227,884 1227,915 1186,875" fill="#cf5f6c"/>
<polygon points="1227,884 1370,825 1457,785 1457,808 1370,852 1227,915" fill="#bb4a55"/>
<polygon points="1372,828 1431,828 1431,852 1392,866 1372,852" fill="#3f4a9b"/>
<polygon points="1380,830 1420,830 1398,844" fill="#f0f0f0"/>
<polygon points="1431,880 1534,886 1529,927 1428,913" fill="#e6428f"/>
<polygon points="1428,913 1529,927 1524,948 1426,935" fill="#a01a5a"/>
<polygon points="1245,940 1356,897 1429,969 1333,1011" fill="#1a8a80"/>
<polygon points="1333,1011 1429,969 1429,997 1332,1043" fill="#0e5a50"/>
<polygon points="1196,970 1264,940 1333,1011 1244,1053" fill="#9b1a17"/>
<polygon points="1196,970 1244,1053 1244,1083 1197,1038" fill="#7a1410"/>
<polygon points="1244,1053 1333,1011 1332,1043 1244,1083" fill="#7a1410"/>
</svg>

<div class="pill" style="left:1279px;top:690px;width:118px;height:40px;border-radius:20px;background:#1d3f5a;font-size:12px"><span style="border:1.5px solid #fff;padding:5px 2px;letter-spacing:-0.8px">Textile</span><span style="font-weight:normal;padding-left:2px">Pavilion</span></div>
<div class="wt" style="left:1378px;top:728px"></div>
<div class="pill" style="left:1131px;top:736px;width:140px;height:34px;border-radius:17px;background:#4a2a7a;font-size:14px">JALISCO<span style="font-weight:normal;border:1px solid #fff;border-right:none;padding:0 2px">Hall</span></div>
<div class="wt" style="left:1244px;top:767px"></div>
<div class="pill" style="left:1072px;top:815px;width:140px;height:33px;border-radius:8px;background:#e8636b;font-size:14px;flex-direction:column;line-height:14px"><div>MEXICO<span style="font-weight:normal;border:1px solid #fff;border-right:none;padding:0 2px">Hall</span></div><div style="font-size:6px;line-height:8px;padding-left:40px">Second Floor</div></div>
<div class="wt" style="left:1206px;top:842px"></div>
<div class="pill" style="left:1341px;top:807px;width:119px;height:20px;border-radius:8px;background:#4a2540;font-size:9.5px;color:#e8dcc8;box-shadow:none">Chihuahua &nbsp;<span style="font-weight:normal">Pavilion</span></div>
<div class="wt" style="left:1389px;top:827px"></div>
<div class="pill" style="left:1430px;top:836px;width:99px;height:41px;border-radius:8px;background:#d21f82;font-size:10.5px;letter-spacing:-0.5px">México<span>diseña</span></div>
<div class="wt" style="left:1475px;top:876px"></div>
<div class="pill" style="left:1268px;top:918px;width:141px;height:34px;border-radius:8px;background:#0e5a50;font-size:12.5px">GUADALAJARA<span style="font-weight:normal;border:1px solid #fff;border-right:none;padding:0 2px">Hall</span></div>
<div class="wt" style="left:1402px;top:947px"></div>
<div class="pill" style="left:1136px;top:976px;width:119px;height:40px;border-radius:20px;background:#7a1410;font-size:17px;font-weight:normal;letter-spacing:-0.8px">expoficina</div>
<div class="wt" style="left:1235px;top:1012px"></div>

</div></body></html>
